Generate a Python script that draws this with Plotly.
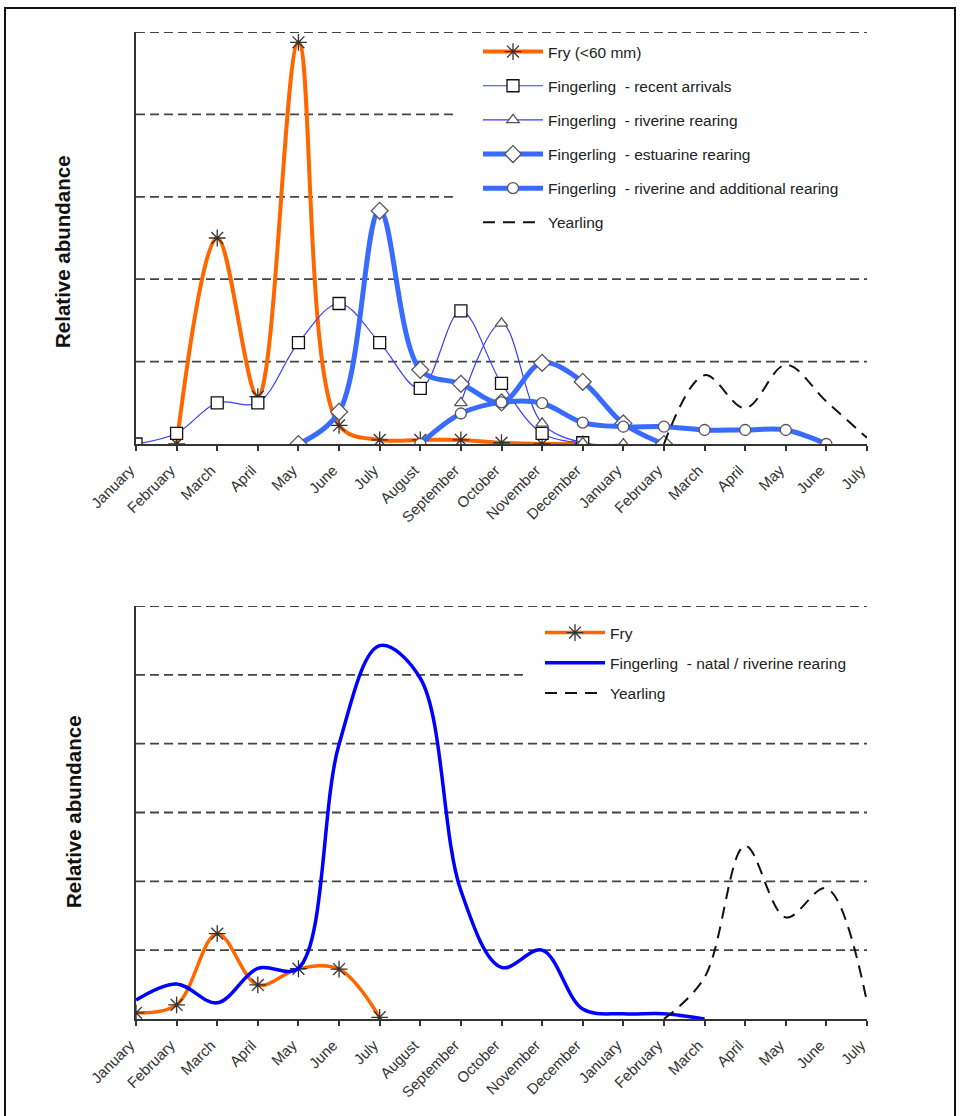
import plotly.graph_objects as go

# Month sequence spanning January of one year to July of the next
months = ["January", "February", "March", "April", "May", "June", "July",
          "August", "September", "October", "November", "December",
          "January", "February", "March", "April", "May", "June", "July"]
N = len(months)

# Upper panel – relative abundance by life-history type
fry_top = [None, 0, 50, 11.5, 97.5, 4.5, 1, 1, 1, 0.3, 0, 0] + [None] * 7
recent_arrivals = [0, 2.6, 10, 10, 24.6, 34.1, 24.6, 13.5, 32.3, 14.7, 2.6, 0.3] + [None] * 7
riverine_rearing = [None] * 8 + [10, 29.3, 5, 0.3, 0] + [None] * 6
estuarine_rearing = [None] * 4 + [0, 7.8, 56.6, 18, 14.6, 10.1, 19.7, 15.1, 5.0, 0] + [None] * 5
riverine_additional = [None] * 7 + [0, 7.4, 10.1, 9.9, 5.2, 4.2, 4.2, 3.4, 3.4, 3.4, 0] + [None]
yearling_top = [None] * 13 + [0, 16.7, 8.7, 19.2, 10.3, 1.5]

# Lower panel
fry_bottom = [1.8, 4.1, 24.8, 9.9, 14.6, 14.5, 0.5] + [None] * 12
fingerling_natal = [5.5, 10.2, 4.7, 14.7, 14.8, 79.8, 108.5, 99.0, 37.3, 15.0, 20.0,
                    2.9, 1.5, 1.5, 0] + [None] * 4
yearling_bottom = [None] * 13 + [0, 12.1, 50.3, 29.5, 38.0, 4.9]

# Gridline levels; the short ones stop where the legend begins
top_grid_full = [20, 40, 100]
top_grid_short = [60, 80]
bottom_grid_full = [20, 40, 60, 80, 120]
bottom_grid_short = [100]

W, H = 960, 1116
FONT = "Liberation Sans, Arial, sans-serif"
x_idx = list(range(N))


def px_x(v):
    return v / W


def px_y(v):
    return 1 - v / H


fig = go.Figure()

ORANGE = "#ff6600"
THIN_BLUE = "#3a3aff"
THICK_BLUE = "#3a6bff"


def add(y, name, axis, legend, color, width, dash=None, symbol=None, msize=10,
        mline="#555555", mfill="white", group=None):
    mode = "lines+markers" if symbol else "lines"
    marker = None
    if symbol:
        marker = dict(symbol=symbol, size=msize, color=mfill,
                      line=dict(color=mline, width=1.3))
    fig.add_trace(go.Scatter(
        x=x_idx, y=y, name=name, mode=mode,
        line=dict(color=color, width=width, shape="spline", smoothing=1,
                  dash=dash),
        marker=marker, xaxis="x" if axis == 1 else "x2",
        yaxis="y" if axis == 1 else "y2", legend=legend,
        legendgroup=group or name, connectgaps=False,
    ))


# Upper panel traces
add(fry_top, "Fry (<60 mm)", 1, "legend", ORANGE, 4, symbol="asterisk-open",
    msize=14, mline="#333333", mfill="#333333")
add(recent_arrivals, "Fingerling  - recent arrivals", 1, "legend", THIN_BLUE, 1.2,
    symbol="square", msize=12, mline="#111111")
add(riverine_rearing, "Fingerling  - riverine rearing", 1, "legend", THIN_BLUE, 1.2,
    symbol="triangle-up", msize=11)
add(estuarine_rearing, "Fingerling  - estuarine rearing", 1, "legend", THICK_BLUE, 5,
    symbol="diamond", msize=13)
add(riverine_additional, "Fingerling  - riverine and additional rearing", 1, "legend",
    THICK_BLUE, 5, symbol="circle", msize=11)
add(yearling_top, "Yearling", 1, "legend", "#111111", 2, dash="12px,8px")

# Lower panel traces
add(fry_bottom, "Fry", 2, "legend2", ORANGE, 3.5, symbol="asterisk-open",
    msize=14, mline="#333333", mfill="#333333", group="b_fry")
add(fingerling_natal, "Fingerling  - natal / riverine rearing", 2, "legend2",
    "#0000ff", 3.5, group="b_fing")
add(yearling_bottom, "Yearling", 2, "legend2", "#111111", 2, dash="12px,8px",
    group="b_year")

xaxis_common = dict(
    range=[0, N - 1], tickmode="array", tickvals=x_idx, ticktext=months,
    tickangle=-45, ticks="outside", ticklen=5, tickcolor="#333333", tickwidth=1.5,
    showline=True, linecolor="#333333", linewidth=1.5, showgrid=False,
    zeroline=False, automargin=False, ticklabelstandoff=5, ticklabelshift=-6,
    tickfont=dict(family=FONT, size=15, color="#333333"),
)
yaxis_common = dict(
    showticklabels=False, ticks="", showgrid=False, showline=True,
    linecolor="#333333", linewidth=1.5, zeroline=False, automargin=False,
)

GRID = dict(color="#444444", width=1.8, dash="9px,5px")
shapes = []
for ax, levels, x1 in [("", top_grid_full, 1), ("", top_grid_short, 0.439),
                       ("2", bottom_grid_full, 1), ("2", bottom_grid_short, 0.536)]:
    for v in levels:
        shapes.append(dict(type="line", xref=f"x{ax} domain", yref=f"y{ax}",
                           x0=0, x1=x1, y0=v, y1=v, layer="below", line=GRID))
# page frame
shapes.append(dict(type="rect", xref="paper", yref="paper", layer="above",
                   x0=px_x(5), x1=px_x(955), y0=-0.05, y1=px_y(8),
                   line=dict(color="#111111", width=2)))

fig.update_layout(
    width=W, height=H, margin=dict(l=0, r=0, t=0, b=0, autoexpand=False),
    paper_bgcolor="white", plot_bgcolor="rgba(0,0,0,0)",
    xaxis=dict(domain=[px_x(136), px_x(867)], anchor="y", **xaxis_common),
    yaxis=dict(domain=[px_y(444), px_y(32)], anchor="x", range=[0, 100],
               **yaxis_common),
    xaxis2=dict(domain=[px_x(136), px_x(867)], anchor="y2", **xaxis_common),
    yaxis2=dict(domain=[px_y(1019), px_y(606)], anchor="x2", range=[0, 120],
                **yaxis_common),
    legend=dict(x=px_x(478), y=px_y(35), xanchor="left", yanchor="top",
                bgcolor="rgba(0,0,0,0)", itemwidth=60, tracegroupgap=11,
                font=dict(family=FONT, size=15.5, color="#222222")),
    legend2=dict(x=px_x(540), y=px_y(616), xanchor="left", yanchor="top",
                 bgcolor="rgba(0,0,0,0)", itemwidth=60, tracegroupgap=7,
                 font=dict(family=FONT, size=15.5, color="#222222")),
    showlegend=True,
    shapes=shapes,
    annotations=[
        dict(text="<b>Relative abundance</b>", xref="paper", yref="paper",
             x=px_x(62), y=px_y(252), xanchor="center", yanchor="middle",
             textangle=-90, showarrow=False,
             font=dict(family=FONT, size=20.5, color="#111111")),
        dict(text="<b>Relative abundance</b>", xref="paper", yref="paper",
             x=px_x(73), y=px_y(812), xanchor="center", yanchor="middle",
             textangle=-90, showarrow=False,
             font=dict(family=FONT, size=20.5, color="#111111")),
    ],
)

fig.write_html("out.html")
